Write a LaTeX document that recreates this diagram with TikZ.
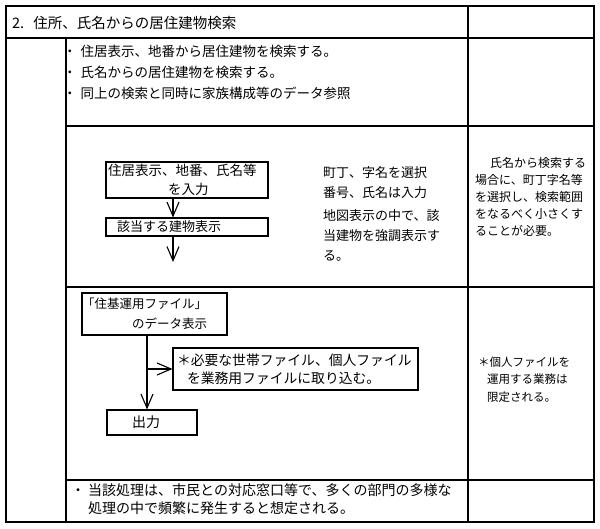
\documentclass[tikz,border=0pt]{standalone}
\usepackage{fontspec}
\setmainfont{Noto Sans CJK JP}
\usetikzlibrary{arrows.meta}
\newcommand{\fs}[2]{\fontsize{#1}{#2}\selectfont}
\tikzset{
  grid/.style={line width=1.3pt, draw=black},
  outer/.style={line width=1.7pt, draw=black},
  flowbox/.style={draw=black, line width=1.1pt, inner ysep=0pt, align=left, anchor=center},
  txt/.style={inner sep=0pt, anchor=base west, align=left},
  flowarrow/.style={line width=1.1pt, -{Straight Barb[length=14pt,width=12pt,line width=1.1pt]}},
}
\begin{document}
\begin{tikzpicture}[x=1pt,y=-1pt]
\useasboundingbox (0,0) rectangle (600,529);
\fill[white] (0,0) rectangle (600,529);
% table
\draw[outer] (6,6) rectangle (594,522);
\draw[grid] (6,38) -- (594,38);
\draw[grid] (468,6) -- (468,522);
\draw[grid] (66,38) -- (66,522);
\draw[grid] (66,126) -- (594,126);
\draw[grid] (66,287) -- (594,287);
\draw[grid] (66,480) -- (594,480);
% header
\node[txt, font=\fs{14.5}{18}] (hdr) at (12,28.5) {2.\hspace*{9pt}住所、氏名からの居住建物検索};
% bullets (base anchor = last line)
\node[txt, font=\fs{13.5}{21}] (bul) at (63,99) {・\hspace*{4pt}住居表示、地番から居住建物を検索する。\\・\hspace*{4pt}氏名からの居住建物を検索する。\\・\hspace*{4pt}同上の検索と同時に家族構成等のデータ参照};
% diagram 1
\node[flowbox, font=\fs{13.5}{19}, minimum width=162pt, minimum height=36pt, text width=158pt, inner xsep=2pt] (b1) at (187,180) {住居表示、地番、氏名等\\\hspace*{60pt}を入力};
\node[flowbox, font=\fs{13}{16}, minimum width=162pt, minimum height=18pt, text width=140pt, inner xsep=11pt] (b2) at (187,227) {該当する建物表示};
\coordinate (a1) at (173,262);
\draw[flowarrow] ([xshift=-14pt]b1.south) -- ([xshift=-14pt]b2.north);
\draw[flowarrow] ([xshift=-14pt]b2.south) -- (a1);
\node[txt, font=\fs{13}{20}] (m1) at (323,197.9) {町丁、字名を選択\\番号、氏名は入力};
\node[txt, font=\fs{13}{20}] (m2) at (323,260.9) {地図表示の中で、該\\当建物を強調表示す\\る。};
\node[txt, font=\fs{12}{17}] (r1) at (475,235.5) {\hspace*{15pt}氏名から検索する\\場合に、町丁字名等\\を選択し、検索範囲\\をなるべく小さくす\\ることが必要。};
% diagram 2
\node[flowbox, font=\fs{12.5}{20}, minimum width=145pt, minimum height=42pt, text width=145pt, inner xsep=0pt] (b3) at (154.5,314) {「住基運用ファイル」\\\hspace*{50pt}のデータ表示};
\node[flowbox, font=\fs{13.8}{18}, minimum width=245pt, minimum height=42pt, text width=237pt, inner xsep=4pt] (b5) at (295.5,369) {＊必要な世帯ファイル、個人ファイル\\\hspace*{10pt}を業務用ファイルに取り込む。};
\node[flowbox, font=\fs{14}{16}, minimum width=90pt, minimum height=25pt, text width=80pt, inner xsep=5pt] (b4) at (152,422.5) {\hspace*{20pt}出力};
\coordinate (br) at (147,369);
\draw[line width=1.1pt] (b3.south -| br) -- (br);
\draw[flowarrow] (br) -- (b4.north -| br);
\draw[flowarrow] (br) -- (b5.west);
\node[txt, font=\fs{11.5}{17.5}] (r2) at (478,401.4) {＊個人ファイルを\\\hspace*{9pt}運用する業務は\\\hspace*{9pt}限定される。};
% bottom row
\node[txt, font=\fs{14}{18}] (bot) at (71,513.3) {・\hspace*{3pt}当該処理は、市民との対応窓口等で、多くの部門の多様な\\\hspace*{17pt}処理の中で頻繁に発生すると想定される。};
\end{tikzpicture}
\end{document}
